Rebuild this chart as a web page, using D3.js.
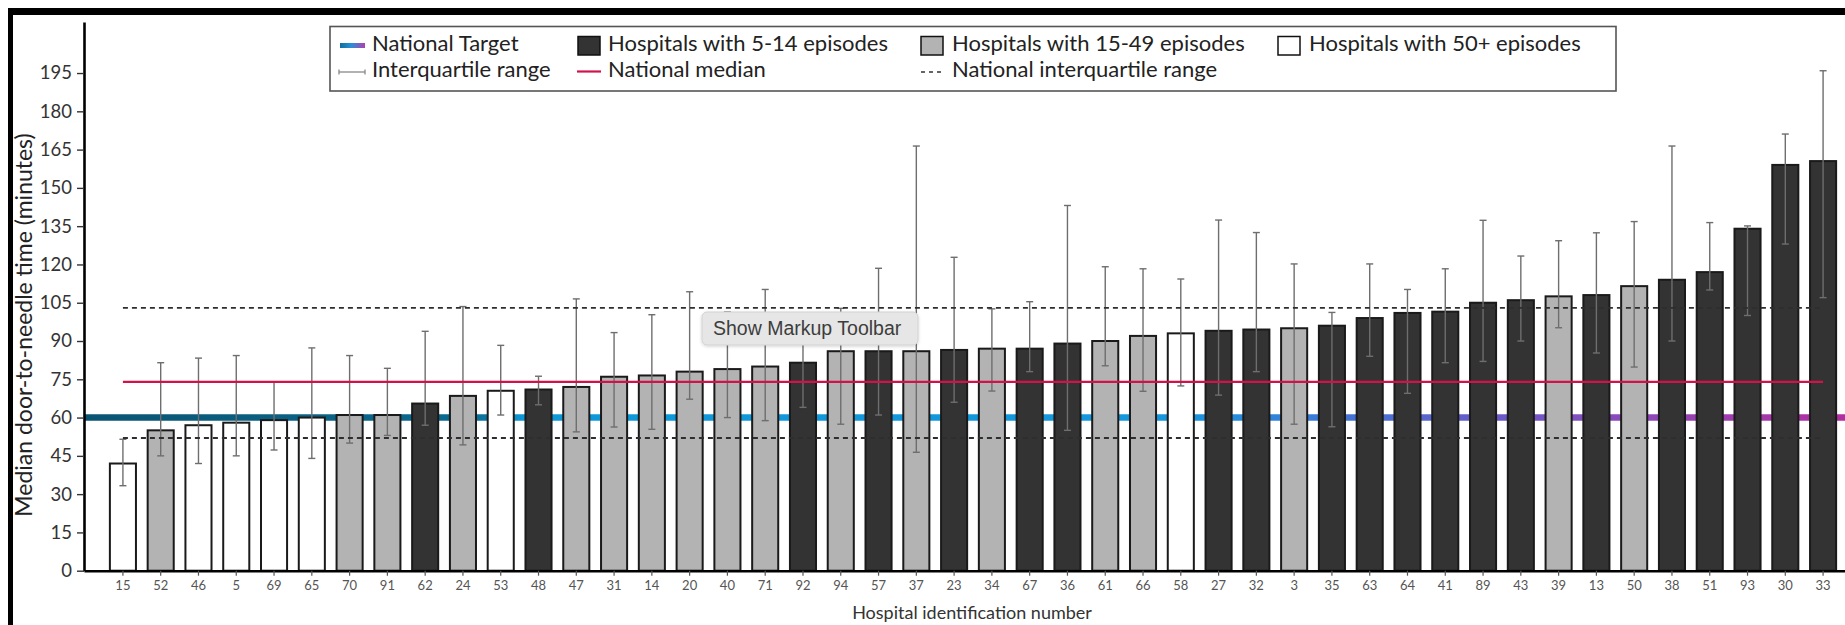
<!DOCTYPE html>
<html>
<head>
<meta charset="utf-8">
<script src="https://cdn.jsdelivr.net/npm/d3@7"></script>
<style>
  html, body { margin: 0; padding: 0; background: #fff; }
  svg { display: block; font-family: Lato, "Open Sans", sans-serif; }
</style>
</head>
<body>
<svg id="chart" width="1845" height="625"></svg>
<script>
// Hospitals, ordered by median door-to-needle time
const hospitals = [15, 52, 46, 5, 69, 65, 70, 91, 62, 24, 53, 48, 47, 31, 14, 20, 40, 71, 92, 94, 57, 37, 23,
  34, 67, 36, 61, 66, 58, 27, 32, 3, 35, 63, 64, 41, 89, 43, 39, 13, 50, 38, 51, 93, 30, 33];
// Episode-volume group: "5-14", "15-49", "50+"
const volumeGroup = ["50+", "15-49", "50+", "50+", "50+", "50+", "15-49", "15-49", "5-14", "15-49", "50+", "5-14",
  "15-49", "15-49", "15-49", "15-49", "15-49", "15-49", "5-14", "15-49", "5-14", "15-49", "5-14", "15-49", "5-14",
  "5-14", "15-49", "15-49", "50+", "5-14", "5-14", "15-49", "5-14", "5-14", "5-14", "5-14", "5-14", "5-14", "15-49",
  "5-14", "15-49", "5-14", "5-14", "5-14", "5-14", "5-14"];
// Median door-to-needle time (minutes)
const medianTime = [42, 55, 57, 58, 59, 60, 61, 61, 65.5, 68.5, 70.5, 71, 72, 76, 76.5, 78, 79, 80, 81.5, 86, 86,
  86, 86.5, 87, 87, 89, 90, 92, 93, 94, 94.5, 95, 96, 99, 101, 101.5, 105, 106, 107.5, 108, 111.5, 114, 117, 134,
  159, 160.5];
// Lower and upper quartiles (minutes)
const lowerQuartile = [33.3, 45, 42, 45, 47.3, 44, 50, 53, 57, 49.3, 61, 65, 54.4, 56.3, 55.4, 67.2, 60, 58.8, 64,
  57.4, 61, 46.4, 66, 70.4, 78, 55, 80.3, 70.3, 72.4, 68.8, 78, 57.4, 56.4, 84, 69.5, 81.5, 82, 90, 95.2, 85.3, 79.8,
  90, 110, 100, 128, 107];
const upperQuartile = [51.5, 81.5, 83.3, 84.3, 74, 87.3, 84.3, 79.3, 93.8, 103.5, 88.3, 76.2, 106.5, 93.3, 100.3,
  109.3, 101.4, 110.2, 95, 102.8, 118.5, 166.4, 122.8, 102.6, 105.4, 143.1, 119.1, 118.3, 114.3, 137.4, 132.5, 120.2,
  101.2, 120.2, 110.2, 118.3, 137.3, 123.3, 129.3, 132.4, 136.8, 166.4, 136.4, 135.1, 171.1, 195.9];
// National reference values (minutes)
const nationalTarget = [60];
const nationalMedian = [74];
const nationalIQR = [52, 103];
// Y-axis tick values
const yTickValues = [0, 15, 30, 45, 60, 75, 90, 105, 120, 135, 150, 165, 180, 195];

const groupFill = { "5-14": "#333333", "15-49": "#b3b3b3", "50+": "#ffffff" };

const svg = d3.select("#chart");
const W = 1845, H = 625;

const x = d3.scaleBand()
  .domain(hospitals.map(String))
  .range([84, 1862])
  .paddingInner(0.31)
  .paddingOuter(0.685);
const y = d3.scaleLinear().domain([0, 215]).range([570.7, 22]);

const data = hospitals.map((h, i) => ({
  id: String(h), group: volumeGroup[i], med: medianTime[i], lo: lowerQuartile[i], hi: upperQuartile[i]
}));
const cx = d => x(d) + x.bandwidth() / 2;
const xFirst = cx(String(hospitals[0])), xLast = cx(String(hospitals[hospitals.length - 1]));

// Gradient for the national target line
const defs = svg.append("defs");
const grad = defs.append("linearGradient").attr("id", "targetGrad")
  .attr("gradientUnits", "userSpaceOnUse").attr("x1", 84).attr("x2", W).attr("y1", 0).attr("y2", 0);
[[0, "#0a5473"], [0.22, "#0b6a90"], [0.25, "#0d98d8"], [0.62, "#1697dd"], [0.70, "#3b7ad6"],
 [0.80, "#6a5ac8"], [0.90, "#9444b4"], [1, "#b02ea0"]]
  .forEach(([o, c]) => grad.append("stop").attr("offset", o).attr("stop-color", c));
const lgGrad = defs.append("linearGradient").attr("id", "targetLegendGrad");
[[0, "#0f6f9c"], [0.45, "#2a8fd8"], [1, "#b040b0"]]
  .forEach(([o, c]) => lgGrad.append("stop").attr("offset", o).attr("stop-color", c));
const shadow = defs.append("filter").attr("id", "tipShadow").attr("x", "-10%").attr("y", "-30%")
  .attr("width", "120%").attr("height", "160%");
shadow.append("feDropShadow").attr("dx", 0).attr("dy", 1).attr("stdDeviation", 1.5)
  .attr("flood-color", "#000").attr("flood-opacity", 0.18);

// National target line (behind the bars)
svg.append("line")
  .attr("x1", 84).attr("x2", W)
  .attr("y1", y(nationalTarget[0])).attr("y2", y(nationalTarget[0]))
  .attr("stroke", "url(#targetGrad)").attr("stroke-width", 6.5);

// Bars
svg.append("g").selectAll("rect").data(data).join("rect")
  .attr("x", d => x(d.id)).attr("width", x.bandwidth())
  .attr("y", d => y(d.med)).attr("height", d => y(0) - y(d.med))
  .attr("fill", d => groupFill[d.group])
  .attr("stroke", "#1a1a1a").attr("stroke-width", 2);

// Interquartile range whiskers
const eb = svg.append("g").attr("stroke", "#6e6e6e").attr("stroke-width", 1.4).attr("fill", "none");
eb.selectAll("line.v").data(data).join("line").attr("class", "v")
  .attr("x1", d => cx(d.id)).attr("x2", d => cx(d.id))
  .attr("y1", d => y(d.lo)).attr("y2", d => y(d.hi));
["lo", "hi"].forEach(k => {
  eb.selectAll("line." + k).data(data).join("line").attr("class", k)
    .attr("x1", d => cx(d.id) - 3.5).attr("x2", d => cx(d.id) + 3.5)
    .attr("y1", d => y(d[k])).attr("y2", d => y(d[k]));
});

// National interquartile range (dashed) and national median (red)
svg.append("g").selectAll("line").data(nationalIQR).join("line")
  .attr("x1", xFirst).attr("x2", xLast)
  .attr("y1", d => y(d)).attr("y2", d => y(d))
  .attr("stroke", "#2e2e2e").attr("stroke-width", 1.8).attr("stroke-dasharray", "5,4");
svg.append("line")
  .attr("x1", xFirst).attr("x2", xLast)
  .attr("y1", y(nationalMedian[0])).attr("y2", y(nationalMedian[0]))
  .attr("stroke", "#d0134a").attr("stroke-width", 2.4);

// Axes
const yAxis = svg.append("g").attr("transform", "translate(84,0)")
  .call(d3.axisLeft(y).tickValues(yTickValues).tickSize(7).tickSizeOuter(0).tickPadding(5));
yAxis.select(".domain").attr("stroke", "#000").attr("stroke-width", 2.6);
yAxis.selectAll(".tick line").attr("stroke", "#333").attr("stroke-width", 1.4);
yAxis.selectAll(".tick text").attr("font-size", 18.5).attr("fill", "#333").attr("font-family", "Lato");

const xAxis = svg.append("g").attr("transform", `translate(0,${y(0)})`)
  .call(d3.axisBottom(x).tickSize(5).tickSizeOuter(0).tickPadding(5));
xAxis.select(".domain").attr("stroke", "#000").attr("stroke-width", 2.6);
xAxis.selectAll(".tick line").attr("stroke", "#555").attr("stroke-width", 1.2);
xAxis.selectAll(".tick text").attr("font-size", 13).attr("fill", "#555").attr("font-family", "Lato");

// Axis titles
svg.append("text")
  .attr("transform", "translate(32,325) rotate(-90)")
  .attr("text-anchor", "middle").attr("font-size", 23).attr("fill", "#222")
  .text("Median door-to-needle time (minutes)");
svg.append("text")
  .attr("x", 972).attr("y", 619)
  .attr("text-anchor", "middle").attr("font-size", 18).attr("fill", "#333")
  .text("Hospital identification number");

// Legend
const lg = svg.append("g");
lg.append("rect").attr("x", 330).attr("y", 26.5).attr("width", 1286).attr("height", 64.5)
  .attr("fill", "#fff").attr("stroke", "#555").attr("stroke-width", 1.6);
const row1 = 50.5, row2 = 77, fs = 22;
// column 1
lg.append("rect").attr("x", 340).attr("y", 43).attr("width", 25).attr("height", 5).attr("fill", "url(#targetLegendGrad)");
lg.append("text").attr("x", 372).attr("y", row1).attr("font-size", fs).attr("fill", "#222").text("National Target");
lg.append("line").attr("x1", 339).attr("x2", 365).attr("y1", 72).attr("y2", 72).attr("stroke", "#888").attr("stroke-width", 1.3);
[339, 365].forEach(px => lg.append("line").attr("x1", px).attr("x2", px).attr("y1", 69.5).attr("y2", 74.5)
  .attr("stroke", "#888").attr("stroke-width", 1.3));
lg.append("text").attr("x", 372).attr("y", row2).attr("font-size", fs).attr("fill", "#222").text("Interquartile range");
// column 2
lg.append("rect").attr("x", 578).attr("y", 36.5).attr("width", 22).attr("height", 18.5)
  .attr("fill", groupFill["5-14"]).attr("stroke", "#111").attr("stroke-width", 1.5);
lg.append("text").attr("x", 608).attr("y", row1).attr("font-size", fs).attr("fill", "#222").text("Hospitals with 5-14 episodes");
lg.append("line").attr("x1", 577).attr("x2", 601).attr("y1", 71.5).attr("y2", 71.5).attr("stroke", "#d0134a").attr("stroke-width", 2.2);
lg.append("text").attr("x", 608).attr("y", row2).attr("font-size", fs).attr("fill", "#222").text("National median");
// column 3
lg.append("rect").attr("x", 921).attr("y", 36.5).attr("width", 22).attr("height", 18.5)
  .attr("fill", groupFill["15-49"]).attr("stroke", "#111").attr("stroke-width", 1.5);
lg.append("text").attr("x", 952).attr("y", row1).attr("font-size", fs).attr("fill", "#222").text("Hospitals with 15-49 episodes");
lg.append("line").attr("x1", 921).attr("x2", 945).attr("y1", 72).attr("y2", 72)
  .attr("stroke", "#333").attr("stroke-width", 1.6).attr("stroke-dasharray", "4,4");
lg.append("text").attr("x", 952).attr("y", row2).attr("font-size", fs).attr("fill", "#222").text("National interquartile range");
// column 4
lg.append("rect").attr("x", 1278).attr("y", 36.5).attr("width", 22).attr("height", 18.5)
  .attr("fill", groupFill["50+"]).attr("stroke", "#111").attr("stroke-width", 1.5);
lg.append("text").attr("x", 1309).attr("y", row1).attr("font-size", fs).attr("fill", "#222").text("Hospitals with 50+ episodes");

// Hover tooltip
const tip = svg.append("g").attr("transform", "translate(702,312)");
tip.append("rect").attr("width", 216).attr("height", 33).attr("rx", 5)
  .attr("fill", "#e6e6e6").attr("stroke", "#d2d2d2").attr("filter", "url(#tipShadow)");
tip.append("text").attr("x", 11).attr("y", 23).attr("font-family", "'Liberation Sans', Arial, sans-serif")
  .attr("font-size", 19.5).attr("fill", "#3d3d3d").text("Show Markup Toolbar");

// Page frame
svg.append("rect").attr("x", 8).attr("y", 8).attr("width", W - 8).attr("height", 7).attr("fill", "#000");
svg.append("rect").attr("x", 8).attr("y", 8).attr("width", 5).attr("height", H - 8).attr("fill", "#000");
</script>
</body>
</html>
